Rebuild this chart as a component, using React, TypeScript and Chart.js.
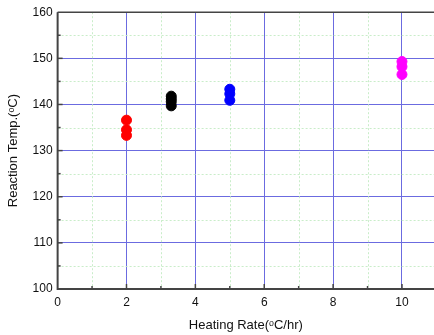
import React, { useEffect, useRef } from "react";
import { Chart, registerables } from "chart.js";
Chart.register(...registerables);

const redX = [2, 2, 2];
const redY = [136.6, 134.5, 133.3];
const blackX = [3.3, 3.3, 3.3, 3.3];
const blackY = [141.8, 141.2, 140.6, 139.7];
const blueX = [5, 5, 5];
const blueY = [143.3, 142.3, 140.9];
const magentaX = [10, 10, 10];
const magentaY = [149.3, 148.2, 146.5];

const xTitle = "Heating Rate(ᵒC/hr)";
const yTitle = "Reaction Temp.(ᵒC)";

const toPts = (xs: number[], ys: number[]) => xs.map((x, i) => ({ x, y: ys[i] }));

const FONT = "'Liberation Sans', Arial, sans-serif";

const minorPlugin = {
  id: "minorGrid",
  beforeDatasetsDraw(chart: any) {
    const { ctx, chartArea } = chart;
    const xs = chart.scales.x;
    const ys = chart.scales.y;
    ctx.save();
    ctx.strokeStyle = "rgba(195,235,195,0.9)";
    ctx.lineWidth = 1;
    ctx.setLineDash([2, 2]);
    for (let v = 1; v <= 10; v += 2) {
      const px = Math.round(xs.getPixelForValue(v)) + 0.5;
      ctx.beginPath();
      ctx.moveTo(px, chartArea.top);
      ctx.lineTo(px, chartArea.bottom);
      ctx.stroke();
    }
    for (let v = 105; v < 160; v += 10) {
      const py = Math.round(ys.getPixelForValue(v)) + 0.5;
      ctx.beginPath();
      ctx.moveTo(chartArea.left, py);
      ctx.lineTo(chartArea.right, py);
      ctx.stroke();
    }
    ctx.setLineDash([]);
    ctx.strokeStyle = "#444";
    ctx.lineWidth = 2;
    ctx.beginPath();
    ctx.moveTo(chartArea.left, chartArea.top);
    ctx.lineTo(chartArea.left, chartArea.bottom);
    ctx.lineTo(chartArea.right, chartArea.bottom);
    ctx.stroke();
    ctx.lineWidth = 1.5;
    ctx.beginPath();
    ctx.moveTo(chartArea.left, chartArea.top);
    ctx.lineTo(chartArea.right, chartArea.top);
    ctx.stroke();
    for (let v = 1; v <= 10; v += 1) {
      const px = xs.getPixelForValue(v);
      const len = v % 2 === 0 ? 5 : 3;
      ctx.beginPath();
      ctx.moveTo(px, chartArea.bottom);
      ctx.lineTo(px, chartArea.bottom - len);
      ctx.stroke();
    }
    for (let v = 105; v < 160; v += 5) {
      const py = ys.getPixelForValue(v);
      const len = v % 10 === 0 ? 5 : 3;
      ctx.beginPath();
      ctx.moveTo(chartArea.left, py);
      ctx.lineTo(chartArea.left + len, py);
      ctx.stroke();
    }
    ctx.restore();
  },
};

export default function App() {
  const ref = useRef<HTMLCanvasElement>(null);
  useEffect(() => {
    document.body.style.margin = "0";
    const mk = (xs: number[], ys: number[], color: string) => ({
      data: toPts(xs, ys),
      backgroundColor: color,
      borderColor: color,
      pointRadius: 5,
      pointHoverRadius: 5,
      showLine: false,
    });
    const chart = new Chart(ref.current!, {
      type: "scatter",
      data: {
        datasets: [
          mk(redX, redY, "#ff0000"),
          mk(blackX, blackY, "#000000"),
          mk(blueX, blueY, "#0000ff"),
          mk(magentaX, magentaY, "#ff00ff"),
        ],
      },
      options: {
        animation: false,
        responsive: false,
        layout: { autoPadding: false, padding: { top: 8, right: 0, left: 6, bottom: 2 } },
        plugins: { legend: { display: false }, tooltip: { enabled: false } },
        scales: {
          x: {
            type: "linear",
            min: 0,
            max: 10.93,
            ticks: {
              stepSize: 2,
              includeBounds: false,
              color: "#111",
              font: { family: FONT, size: 12 },
              padding: 6,
              maxRotation: 0,
            },
            grid: { color: "#6b6be0", lineWidth: 1, drawTicks: false },
            border: { display: false },
            title: {
              display: true,
              text: xTitle,
              color: "#111",
              font: { family: FONT, size: 13 },
              padding: { top: 2, bottom: 0 },
            },
          },
          y: {
            type: "linear",
            min: 100,
            max: 160,
            ticks: {
              stepSize: 10,
              color: "#111",
              font: { family: FONT, size: 12 },
              padding: 5,
            },
            grid: { color: "#6b6be0", lineWidth: 1, drawTicks: false },
            border: { display: false },
            title: {
              display: true,
              text: yTitle,
              color: "#111",
              font: { family: FONT, size: 13 },
              padding: { top: 0, bottom: 6 },
            },
          },
        },
      },
      plugins: [minorPlugin],
    });
    return () => chart.destroy();
  }, []);
  return <canvas ref={ref} width={434} height={335} style={{ display: "block" }} />;
}
